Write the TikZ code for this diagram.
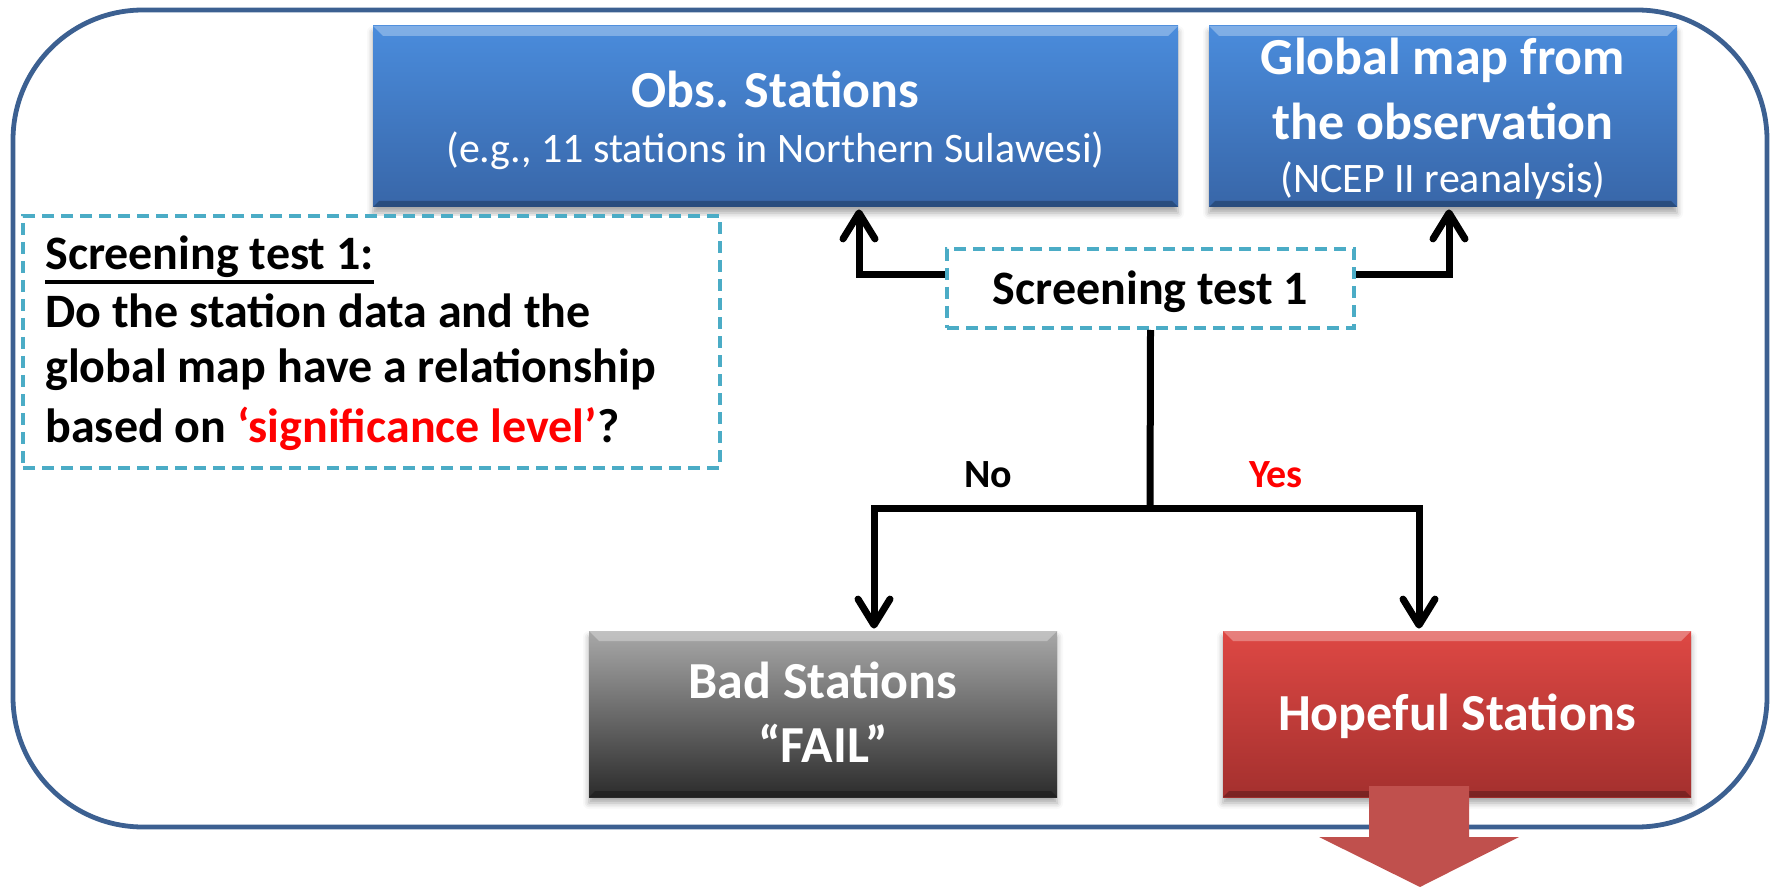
\documentclass[tikz,border=0pt]{standalone}
\usepackage{fontspec}
\setmainfont{Carlito}
\usetikzlibrary{arrows.meta,shadows.blur,calc}
\definecolor{frameblue}{RGB}{60,96,145}
\definecolor{bluetop}{RGB}{74,140,220}
\definecolor{bluebot}{RGB}{56,102,168}
\definecolor{graytop}{RGB}{168,168,168}
\definecolor{graybot}{RGB}{44,44,44}
\definecolor{redtop}{RGB}{222,72,68}
\definecolor{redbot}{RGB}{164,48,46}
\definecolor{bigarrowcol}{RGB}{192,80,77}
\definecolor{dashcol}{RGB}{75,172,198}
\definecolor{txtred}{RGB}{255,0,0}
\newcommand\myTitleFont{\fontsize{26pt}{30pt}\selectfont\bfseries}
\newcommand\mySubFont{\fontsize{21pt}{25pt}\selectfont}
\newcommand\myBodyFont{\fontsize{24pt}{28pt}\selectfont\bfseries}
\newcommand\myLabelFont{\fontsize{20pt}{24pt}\selectfont\bfseries}
\begin{document}
\begin{tikzpicture}[x=0.5pt,y=-0.5pt,
  bevelbox/.style={inner sep=0, shading=axis,
    blur shadow={shadow xshift=0pt,shadow yshift=-3pt,shadow blur radius=3pt,shadow opacity=35},
    path picture={
      \fill[white,opacity=0.3] (path picture bounding box.north west) -- (path picture bounding box.north east) -- ([xshift=-5pt,yshift=-5pt]path picture bounding box.north east) -- ([xshift=5pt,yshift=-5pt]path picture bounding box.north west) -- cycle;
      \fill[black,opacity=0.25] (path picture bounding box.south west) -- (path picture bounding box.south east) -- ([xshift=-3pt,yshift=3pt]path picture bounding box.south east) -- ([xshift=3pt,yshift=3pt]path picture bounding box.south west) -- cycle;
    }},
  bluebox/.style={bevelbox, top color=bluetop, bottom color=bluebot},
  graybox/.style={bevelbox, top color=graytop, bottom color=graybot},
  redbox/.style={bevelbox, top color=redtop, bottom color=redbot},
  dashbox/.style={draw=dashcol, line width=2pt, dash pattern=on 6pt off 3.5pt, fill=white, inner sep=0},
  wtxt/.style={anchor=base, text=white, inner sep=0},
  btxt/.style={anchor=base west, text=black, inner sep=0, font=\myBodyFont},
  conn/.style={line width=3.5pt, black},
  arr/.style={conn, -{Straight Barb[length=13pt,width=16pt,round]}, shorten >=1pt}
]
\useasboundingbox (0,0) rectangle (1776,887);

% outer frame
\node[draw=frameblue, line width=2.4pt, rounded corners=65pt, minimum width=877pt, minimum height=408.5pt, inner sep=0] (frame) at (890,418.5) {};

% top boxes
\node[bluebox, minimum width=402.5pt, minimum height=90.5pt] (obs) at (775.5,116.5) {};
\node[wtxt, font=\myTitleFont] (obsT) at (775.5,108) {Obs. Stations};
\node[wtxt, font=\mySubFont] (obsS) at (775.5,163) {(e.g., 11 stations in Northern Sulawesi)};

\node[bluebox, minimum width=234pt, minimum height=90.5pt] (glob) at (1443,116.5) {};
\node[wtxt, font=\myTitleFont] (globT1) at (1443,75) {Global map from};
\node[wtxt, font=\myTitleFont] (globT2) at (1443,140) {the observation};
\node[wtxt, font=\mySubFont] (globS) at (1443,193) {(NCEP II reanalysis)};

% left explanation box
\node[dashbox, minimum width=348.5pt, minimum height=126pt] (expl) at (371.5,342) {};
\node[btxt] (explL1) at (45,270) {Screening test 1:};
\draw[line width=1.6pt] ([yshift=-6pt]explL1.base west) -- ([yshift=-6pt]explL1.base east);
\node[btxt] (explL2) at (45,328) {Do the station data and the};
\node[btxt] (explL3) at (45,383) {global map have a relationship};
\node[btxt] (explL4) at (45,442) {based on \textcolor{txtred}{‘significance level’}?};

% screening test node
\node[dashbox, minimum width=203.5pt, minimum height=39.5pt] (scr) at (1150.5,288.5) {};
\node[anchor=base, inner sep=0, font=\myBodyFont] (scrT) at (1150.5,305) {Screening test 1};

% bottom boxes
\node[graybox, minimum width=234pt, minimum height=83pt] (bad) at (823,714) {};
\node[wtxt, font=\myTitleFont] (badT1) at (823,698) {Bad Stations};
\node[wtxt, font=\myTitleFont] (badT2) at (823,762) {“FAIL”};

\node[redbox, minimum width=234pt, minimum height=83pt] (hope) at (1457,714) {};
\node[wtxt, font=\myTitleFont] (hopeT) at (1457,730) {Hopeful Stations};

% connectors
\coordinate (j) at (1150,508);
\draw[arr] ([yshift=6.75pt]scr.west) -| ([xshift=41.75pt]obs.south);
\draw[arr] ([yshift=6.75pt]scr.east) -| ([xshift=3pt]glob.south);
\draw[conn] (scr.south) -- (j);
\draw[arr] (j) -| ([xshift=25.5pt]bad.north);
\draw[arr] (j) -| ([xshift=-19pt]hope.north);

\node[anchor=base, inner sep=0, font=\myLabelFont] (no) at (988,487) {No};
\node[anchor=base, inner sep=0, font=\myLabelFont, text=txtred] (yes) at (1276,487) {Yes};

% big down arrow
\fill[bigarrowcol] (1369,786) -- (1469,786) -- (1469,837) -- (1519,837) -- (1420,887) -- (1319,837) -- (1369,837) -- cycle;
\end{tikzpicture}
\end{document}
